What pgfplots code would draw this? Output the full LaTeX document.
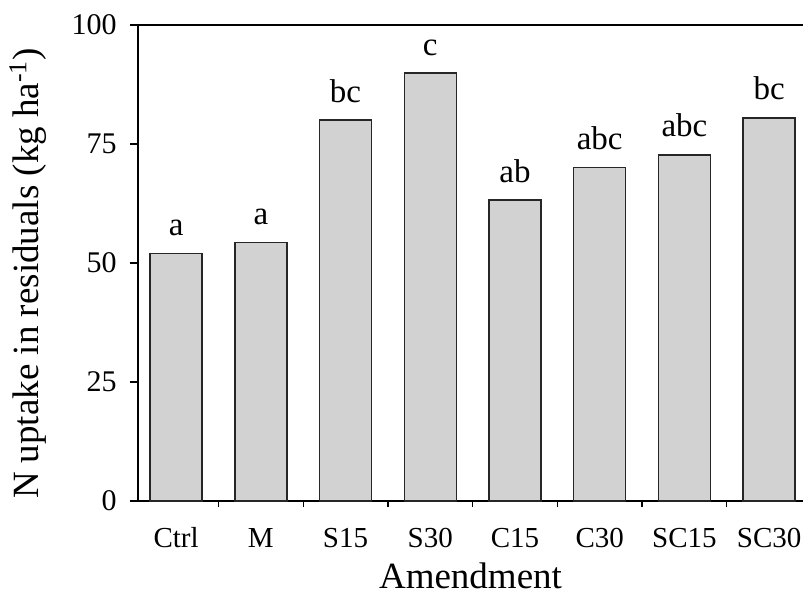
\documentclass[border=0pt]{standalone}
\usepackage{pgfplots}
\pgfplotsset{compat=1.18}
\usepackage{pgfplotstable}
\usepackage{fontspec}
\setmainfont{Liberation Serif}

\pgfplotstableread{
idx val  lab
0   52.0 a
1   54.3 a
2   80.0 bc
3   89.9 c
4   63.2 ab
5   70.0 abc
6   72.7 abc
7   80.5 bc
}\uptake

\begin{document}
\begin{tikzpicture}
\begin{axis}[
  scale only axis, width=332.5pt, height=238pt,
  xmin=-0.45, xmax=7.4, ymin=0, ymax=100,
  axis x line*=bottom, axis y line*=left,
  axis line style={line width=0.8pt, black},
  tick align=outside,
  tick style={black, line width=0.6pt},
  ytick={0,25,50,75,100}, major tick length=4pt,
  xtick={0,...,7}, xticklabels={Ctrl,M,S15,S30,C15,C30,SC15,SC30},
  major x tick style={draw=none},
  minor x tick num=1, minor tick length=3pt,
  /pgf/number format/assume math mode=true,
  y tick label style={font=\fontsize{15}{17}\selectfont, anchor=east, inner sep=0pt, xshift=-6.5pt},
  x tick label style={font=\fontsize{14.5}{16}\selectfont, anchor=base, inner sep=0pt, yshift=-19pt},
  ylabel={N uptake in residuals (kg ha\textsuperscript{-1})},
  xlabel={Amendment},
  every axis y label/.style={at={(axis description cs:-0.149,0.478)}, rotate=90, anchor=base,
    font=\fontsize{18.5}{20}\selectfont},
  every axis x label/.style={at={(axis description cs:0.5,-0.183)}, anchor=base,
    font=\fontsize{18.5}{20}\selectfont},
  nodes near coords,
  every node near coord/.append style={font=\fontsize{16.5}{18}\selectfont, anchor=south, inner sep=0pt, yshift=8.5pt},
]
\addplot[ybar, bar width=26pt, fill=gray!35, draw=black!85, line width=0.7pt,
  point meta=explicit symbolic] table[x=idx, y=val, meta=lab] {\uptake};
\draw[line width=0.8pt, black] (rel axis cs:0,1) -- (rel axis cs:1,1);
\end{axis}
\pgfresetboundingbox
\path (-69pt,-52pt) rectangle (332.5pt,250.5pt);
\end{tikzpicture}
\end{document}
